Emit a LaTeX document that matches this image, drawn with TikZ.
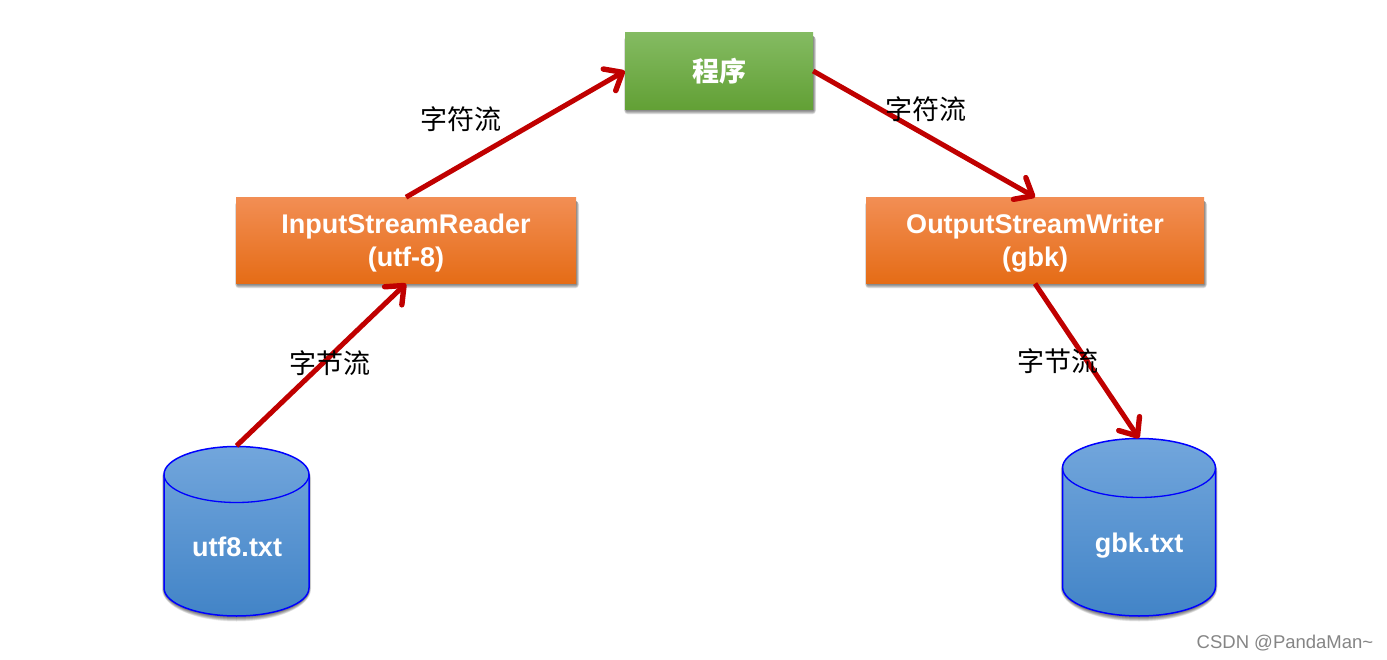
\documentclass[tikz,border=0pt]{standalone}
\usepackage{fontspec}
\setmainfont{Liberation Sans}
\newfontfamily\cjk{Noto Sans CJK SC}
\newfontfamily\cjkb{Noto Sans CJK SC Bold}
\usetikzlibrary{arrows.meta}
\definecolor{arrowred}{HTML}{C00000}
\tikzset{
  shadowlayer/.style={fill=black,opacity=.07},
  boxnode/.style={rectangle,inner sep=0pt,align=center,text=white,
    font=\fontsize{27}{33}\selectfont\bfseries},
  greenbox/.style={boxnode,top color=HG1,middle color=HG2,bottom color=HG3},
  orangebox/.style={boxnode,top color=HO1,middle color=HO2,bottom color=HO3},
  cylbody/.style={draw=blue,line width=1.5pt,top color=HB1,middle color=HB2,bottom color=HB3},
  cylrim/.style={draw=blue,line width=1.3pt},
  cylanchor/.style={rectangle,inner sep=0pt},
  cyltext/.style={text=white,font=\fontsize{27}{33}\selectfont\bfseries},
  flow/.style={draw=arrowred,line width=5pt,-{Straight Barb[length=15pt,width=25pt,line width=5.4pt,round]}},
  flowlabel/.style={text=black,font=\fontsize{27}{33}\selectfont\cjk},
  watermark/.style={text=black!48,font=\fontsize{18.5}{22}\selectfont}
}
\definecolor{HG1}{HTML}{84BB62}\definecolor{HG2}{HTML}{6EB040}\definecolor{HG3}{HTML}{62A035}
\definecolor{HO1}{HTML}{F28E54}\definecolor{HO2}{HTML}{F07D26}\definecolor{HO3}{HTML}{E56C16}
\definecolor{HB1}{HTML}{72A6DC}\definecolor{HB2}{HTML}{5699DC}\definecolor{HB3}{HTML}{4284C7}
% x1, y1, x2, y2: blurred shadow of a rectangle
\newcommand{\boxshadow}[4]{%
  \foreach \d in {4,3.5,3,2.5,2,1.5,1,0.5,0}{%
    \fill[shadowlayer,rounded corners=\d pt] (#1-0.6*\d+1.5,#2+4) rectangle (#3+0.7*\d+0.3,#4+\d+1.5);}%
}
% cx, top, bottom, rx, ry: blurred shadow of a cylinder
\newcommand{\cylshadow}[5]{%
  \foreach \d in {4,3.5,3,2.5,2,1.5,1,0.5,0}{%
    \fill[shadowlayer] (#1-#4-0.5*\d,#2+#5+3) arc[start angle=180,end angle=0,x radius=#4+0.5*\d,y radius=-#5]
      -- (#1+#4+0.5*\d,#3-#5+1) arc[start angle=0,end angle=-180,x radius=#4+0.5*\d,y radius=-#5-\d-0.5] -- cycle;}%
}
\newcommand{\cylshape}[5]{%
  \path[cylbody] (#1-#4,#2+#5) arc[start angle=180,end angle=0,x radius=#4,y radius=-#5]
    -- (#1+#4,#3-#5) arc[start angle=0,end angle=-180,x radius=#4,y radius=-#5] -- cycle;
  \draw[cylrim] (#1-#4,#2+#5) arc[start angle=180,end angle=360,x radius=#4,y radius=-#5];
}
\begin{document}
\begin{tikzpicture}[x=1pt,y=-1pt]
\useasboundingbox (0,0) rectangle (1387,660);
\fill[white] (0,0) rectangle (1387,660);

\boxshadow{625}{32}{813}{109}
\boxshadow{236}{197}{576}{283}
\boxshadow{866}{197}{1204}{283}
\cylshadow{236.5}{446.5}{616}{72.5}{28}
\cylshadow{1139}{438.5}{616}{76.5}{29.5}

\node[greenbox,minimum width=188pt,minimum height=77pt] (prog) at (719,71) {\cjkb 程序};
\node[orangebox,minimum width=340pt,minimum height=86pt] (reader) at (406,240.4) {\rule{0pt}{25.5pt}InputStreamReader\\(utf-8)};
\node[orangebox,minimum width=338pt,minimum height=86pt] (writer) at (1035,240.4) {\rule{0pt}{25.5pt}OutputStreamWriter\\(gbk)};

\cylshape{236.5}{446.5}{616}{72.5}{28}
\node[cylanchor,minimum width=145pt,minimum height=170pt] (utf) at (236.5,531) {};
\node[cyltext] (utftext) at (237,547) {utf8.txt};

\cylshape{1139}{438.5}{616}{76.5}{29.5}
\node[cylanchor,minimum width=153pt,minimum height=178pt] (gbk) at (1139,527.5) {};
\node[cyltext] (gbktext) at (1139,546) {gbk.txt};

\draw[flow] (utf.north) -- (reader.south);
\draw[flow] (reader.north) -- (prog.west);
\draw[flow] (prog.east) -- (writer.north);
\draw[flow] (writer.south) -- (gbk.north);

\node[flowlabel] (l1) at (461,119) {字符流};
\node[flowlabel] (l2) at (926,109) {字符流};
\node[flowlabel] (l3) at (330,363) {字节流};
\node[flowlabel] (l4) at (1058,361) {字节流};

\node[watermark] (wm) at (1285,643) {CSDN @PandaMan\textasciitilde};
\end{tikzpicture}
\end{document}
